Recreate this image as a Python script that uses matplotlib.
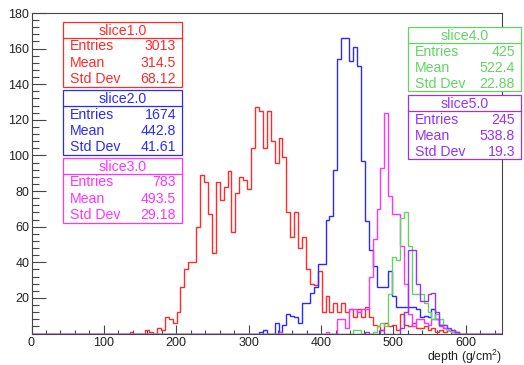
import numpy as np
import matplotlib.pyplot as plt
from matplotlib.patches import Rectangle
from matplotlib.lines import Line2D
from matplotlib.ticker import MultipleLocator

plt.rcParams['font.family'] = ['Liberation Sans', 'DejaVu Sans']
plt.rcParams['mathtext.fontset'] = 'custom'
plt.rcParams['mathtext.rm'] = 'Liberation Sans'

# depth histograms: 120 bins between 0 and 650 g/cm^2
x_min, x_max, n_bins = 0, 650, 120

red_first = 25
red_counts = [1, 0, 0, 0, 2, 1, 0, 3, 2, 9, 8, 6, 12, 26, 36, 40, 40, 60, 89, 85,
              67, 45, 85, 75, 82, 91, 57, 79, 88, 86, 81, 104, 127, 125, 104, 125,
              108, 96, 110, 99, 68, 54, 68, 48, 54, 36, 28, 27, 35, 12, 21, 12, 17,
              12, 17, 12, 14, 9, 14, 9, 15, 9, 5, 4, 2, 6, 4, 5, 2, 11, 5, 4, 6, 3,
              3, 4, 2, 3, 1, 2, 1, 2, 1]

blue_first = 58
blue_counts = [1, 2, 0, 0, 6, 1, 5, 11, 10, 9, 6, 17, 17, 23, 26, 39, 39, 64, 66,
               92, 154, 166, 166, 153, 161, 150, 97, 63, 47, 38, 26, 26, 26, 35, 21,
               15, 15, 15, 15, 15, 14, 9, 10, 9, 14, 8, 5, 3, 2, 2, 1]

magenta_first = 63
magenta_counts = [1, 0, 0, 0, 0, 0, 0, 0, 0, 0, 0, 0, 1, 0, 0, 8, 8, 3, 14, 14, 12,
                  14, 14, 32, 53, 70, 93, 124, 77, 67, 67, 49, 28, 11, 4, 8, 8, 6,
                  5, 8, 8, 4, 3, 2, 1]

green_first = 82
green_counts = [2, 2, 0, 0, 0, 1, 4, 6, 4, 22, 43, 41, 65, 68, 49, 22, 22, 22, 17,
                12, 8, 11, 8, 5, 2, 1, 1]

purple_first = 85
purple_counts = [1, 0, 0, 0, 2, 0, 0, 0, 0, 3, 12, 47, 47, 28, 18, 18, 22, 23, 12,
                 5, 5, 3, 2, 1]

names = ['slice1.0', 'slice2.0', 'slice3.0', 'slice4.0', 'slice5.0']
entries = ['3013', '1674', '783', '425', '245']
means = ['314.5', '442.8', '493.5', '522.4', '538.8']
std_devs = ['68.12', '41.61', '29.18', '22.88', '19.3']
colors = ['#ff2a2a', '#2a2aff', '#ff33ff', '#62d462', '#9933f0']

firsts = [red_first, blue_first, magenta_first, green_first, purple_first]
counts = [red_counts, blue_counts, magenta_counts, green_counts, purple_counts]


def full_hist(first, vals):
    h = np.zeros(n_bins)
    h[first:first + len(vals)] = vals
    return h


W, H = 524, 365
fig = plt.figure(figsize=(W / 100, H / 100), dpi=100)
ax_l, ax_r, ax_t, ax_b = 31.5, 502, 13, 333.5
ax = fig.add_axes([ax_l / W, 1 - ax_b / H, (ax_r - ax_l) / W, (ax_b - ax_t) / H])

edges = np.linspace(x_min, x_max, n_bins + 1)
for first, vals, c in zip(firsts, counts, colors):
    ax.stairs(full_hist(first, vals), edges, color=c, lw=1.0, zorder=3)

ax.set_xlim(x_min, x_max)
ax.set_ylim(0, 180)
ax.set_xticks(range(0, 601, 100))
ax.xaxis.set_minor_locator(MultipleLocator(20))
ax.set_yticks(range(20, 181, 20))
ax.yaxis.set_minor_locator(MultipleLocator(4))

axis_grey = '#454545'
for s in ax.spines.values():
    s.set_color(axis_grey)
    s.set_linewidth(0.8)
ax.tick_params(which='both', direction='in', top=False, right=False,
               color=axis_grey, width=0.8, labelsize=9, labelcolor='#222222')
ax.tick_params(axis='x', which='major', length=6.5, pad=2.5)
ax.tick_params(axis='x', which='minor', length=3.2)
ax.tick_params(axis='y', which='major', length=10, pad=1.5)
ax.tick_params(axis='y', which='minor', length=5)

fig.text(ax_r / W, 1 - 357 / H, 'depth (g/cm$^2$)', ha='right', va='center',
         fontsize=8.8, color='#222222')


def fx(px):
    return px / W


def fy(py):
    return 1 - py / H


# stats boxes (pixel corners: left, top, right, bottom)
boxes = [(63, 22, 182, 87), (63, 90, 182, 155), (63, 158, 182, 223),
         (408, 27, 521, 91), (408, 95, 521, 159)]

for (x0, y0, x1, y1), name, n, m, sd, c in zip(boxes, names, entries, means,
                                                std_devs, colors):
    fig.add_artist(Rectangle((fx(x0), fy(y1)), fx(x1) - fx(x0), fy(y0) - fy(y1),
                             transform=fig.transFigure, facecolor='white',
                             edgecolor=c, lw=0.9, zorder=5))
    fig.add_artist(Line2D([fx(x0), fx(x1)], [fy(y0 + 16), fy(y0 + 16)],
                          transform=fig.transFigure, color=c, lw=0.9, zorder=6))
    fig.text(fx((x0 + x1) / 2), fy(y0 + 13), name, ha='center', va='baseline',
             fontsize=10.2, color=c, zorder=7)
    for k, (lab, val) in enumerate([('Entries', n), ('Mean', m), ('Std Dev', sd)]):
        base = y0 + 28.5 + 16.3 * k
        fig.text(fx(x0 + 7), fy(base), lab, ha='left', va='baseline',
                 fontsize=10.2, color=c, zorder=7)
        fig.text(fx(x1 - 6), fy(base), val, ha='right', va='baseline',
                 fontsize=10.2, color=c, zorder=7)

fig.savefig('out.png', dpi=100)
